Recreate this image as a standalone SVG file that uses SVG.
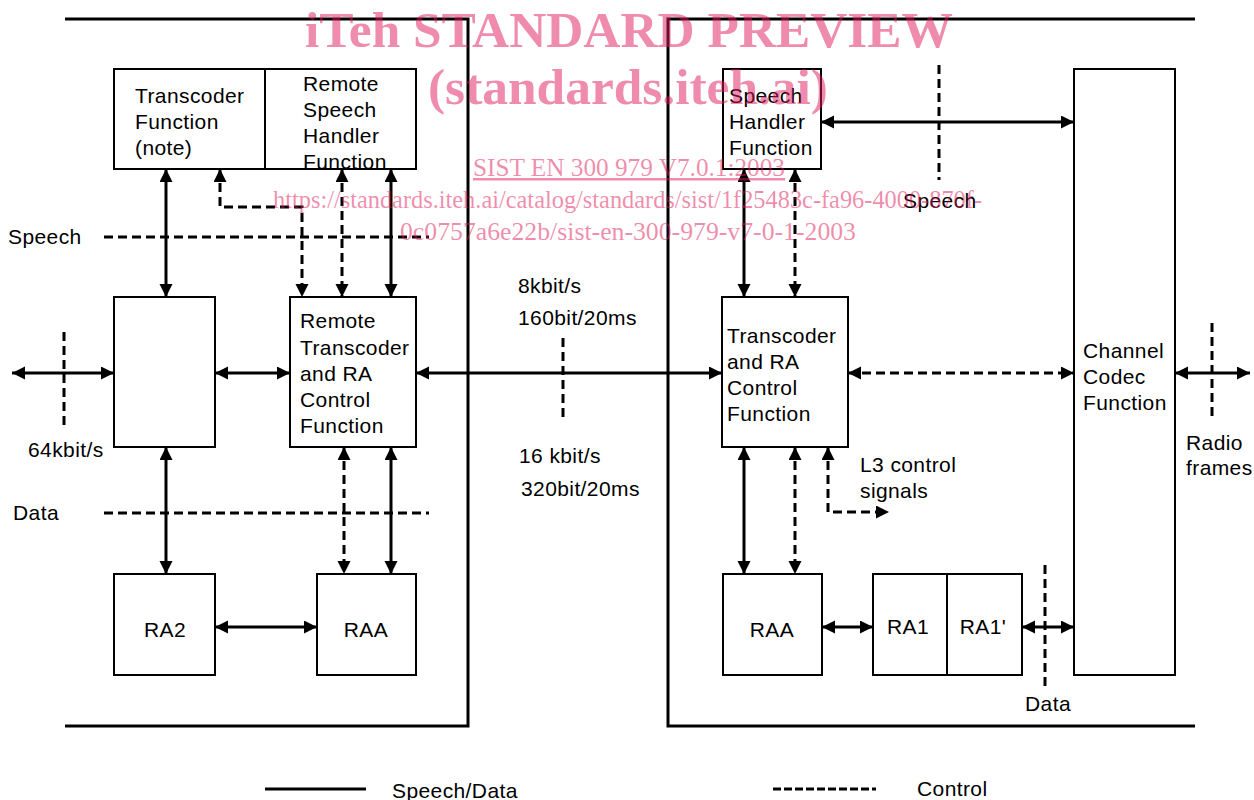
<svg xmlns="http://www.w3.org/2000/svg" width="1254" height="800" viewBox="0 0 1254 800">
<style>
.t{font-family:"Liberation Sans",Arial,sans-serif;font-size:21px;letter-spacing:0.4px;fill:#000}
.box{fill:#fff;stroke:#000;stroke-width:2}
.frame{fill:none;stroke:#000;stroke-width:3}
.s{fill:none;stroke:#000;stroke-width:3}
.d{fill:none;stroke:#000;stroke-width:3;stroke-dasharray:9 5}
.ar{marker-start:url(#ah);marker-end:url(#ah)}
.ae{marker-end:url(#ah)}
.wm{font-family:"Liberation Serif","Times New Roman",serif;fill:#e0185a;fill-opacity:0.5}
</style>
<defs>
<marker id="ah" markerUnits="userSpaceOnUse" markerWidth="14" markerHeight="14" refX="13" refY="6.5" orient="auto-start-reverse">
<path d="M0,0 L13,6.5 L0,13 Z" fill="#000"/>
</marker>
</defs>
<rect width="1254" height="800" fill="#fff"/>
<g id="frames">
<polyline class="frame" points="65,19 468,19 468,726 65,726"/>
<polyline class="frame" points="1195,19 668,19 668,726 1195,726"/>
</g>
<g id="connectors">
<line class="s ar" x1="166" y1="169" x2="166" y2="297"/>
<polyline class="d ar" points="220,169 220,207 302,207 302,297"/>
<line class="d ar" x1="342" y1="169" x2="342" y2="297"/>
<line class="s ar" x1="391" y1="169" x2="391" y2="297"/>
<line class="d" x1="104" y1="237" x2="429" y2="237"/>
<line class="s ar" x1="12" y1="373" x2="114" y2="373"/>
<line class="d" x1="64" y1="332" x2="64" y2="425"/>
<line class="s ar" x1="215" y1="373" x2="290" y2="373"/>
<line class="s ar" x1="416" y1="373" x2="722" y2="373"/>
<line class="s ar" x1="166" y1="447" x2="166" y2="574"/>
<line class="d ar" x1="344" y1="447" x2="344" y2="574"/>
<line class="s ar" x1="391" y1="447" x2="391" y2="574"/>
<line class="d" x1="104" y1="513" x2="429" y2="513"/>
<line class="s ar" x1="215" y1="627" x2="317" y2="627"/>
<line class="d" x1="563" y1="338" x2="563" y2="420"/>
<line class="s ar" x1="821" y1="122" x2="1074" y2="122"/>
<line class="d" x1="939" y1="65" x2="939" y2="180"/>
<line class="s ar" x1="744" y1="169" x2="744" y2="297"/>
<line class="d ar" x1="795" y1="169" x2="795" y2="297"/>
<line class="d ar" x1="848" y1="373" x2="1074" y2="373"/>
<line class="s ar" x1="1175" y1="373" x2="1250" y2="373"/>
<line class="d" x1="1212" y1="323" x2="1212" y2="418"/>
<line class="s ar" x1="744" y1="447" x2="744" y2="574"/>
<line class="d ar" x1="795" y1="447" x2="795" y2="574"/>
<polyline class="d ar" points="828,447 828,512 889,512"/>
<line class="s ar" x1="822" y1="627" x2="873" y2="627"/>
<line class="s ar" x1="1022" y1="627" x2="1074" y2="627"/>
<line class="d" x1="1045" y1="565" x2="1045" y2="690"/>
</g>
<g id="transcoder-function">
<rect class="box" x="114" y="69" width="151" height="100"/>
<text class="t" x="135" y="103">Transcoder</text>
<text class="t" x="135" y="129">Function</text>
<text class="t" x="135" y="155">(note)</text>
</g>
<g id="remote-speech-handler">
<rect class="box" x="265" y="69" width="151" height="100"/>
<text class="t" x="303" y="91">Remote</text>
<text class="t" x="303" y="117">Speech</text>
<text class="t" x="303" y="143">Handler</text>
<text class="t" x="303" y="169">Function</text>
</g>
<g id="left-mid-box">
<rect class="box" x="114" y="297" width="101" height="150"/>
</g>
<g id="remote-transcoder">
<rect class="box" x="290" y="297" width="126" height="150"/>
<text class="t" x="300" y="328">Remote</text>
<text class="t" x="300" y="355">Transcoder</text>
<text class="t" x="300" y="381">and RA</text>
<text class="t" x="300" y="407">Control</text>
<text class="t" x="300" y="433">Function</text>
</g>
<g id="ra2">
<rect class="box" x="114" y="574" width="101" height="101"/>
<text class="t" x="165" y="637" text-anchor="middle">RA2</text>
</g>
<g id="raa-left">
<rect class="box" x="317" y="574" width="99" height="101"/>
<text class="t" x="366" y="637" text-anchor="middle">RAA</text>
</g>
<g id="speech-handler">
<rect class="box" x="723" y="69" width="98" height="100"/>
<text class="t" x="729" y="103">Speech</text>
<text class="t" x="729" y="129">Handler</text>
<text class="t" x="729" y="155">Function</text>
</g>
<g id="transcoder-ra-control">
<rect class="box" x="722" y="297" width="126" height="150"/>
<text class="t" x="727" y="343">Transcoder</text>
<text class="t" x="727" y="369">and RA</text>
<text class="t" x="727" y="395">Control</text>
<text class="t" x="727" y="421">Function</text>
</g>
<g id="channel-codec">
<rect class="box" x="1074" y="69" width="101" height="606"/>
<text class="t" x="1083" y="358">Channel</text>
<text class="t" x="1083" y="384">Codec</text>
<text class="t" x="1083" y="410">Function</text>
</g>
<g id="raa-right">
<rect class="box" x="723" y="574" width="99" height="101"/>
<text class="t" x="772" y="637" text-anchor="middle">RAA</text>
</g>
<g id="ra1">
<rect class="box" x="873" y="574" width="74" height="101"/>
<text class="t" x="908" y="634" text-anchor="middle">RA1</text>
</g>
<g id="ra1p">
<rect class="box" x="947" y="574" width="75" height="101"/>
<text class="t" x="983" y="634" text-anchor="middle">RA1'</text>
</g>
<g id="labels">
<text class="t" x="8" y="244">Speech</text>
<text class="t" x="28" y="457">64kbit/s</text>
<text class="t" x="13" y="520">Data</text>
<text class="t" x="518" y="293">8kbit/s</text>
<text class="t" x="518" y="325">160bit/20ms</text>
<text class="t" x="519" y="463">16 kbit/s</text>
<text class="t" x="521" y="496">320bit/20ms</text>
<text class="t" x="903" y="208">Speech</text>
<text class="t" x="1186" y="450">Radio</text>
<text class="t" x="1186" y="475">frames</text>
<text class="t" x="860" y="472">L3 control</text>
<text class="t" x="860" y="498">signals</text>
<text class="t" x="1025" y="711">Data</text>
</g>
<g id="legend">
<line x1="265" y1="789" x2="366" y2="789" stroke="#000" stroke-width="3"/>
<text class="t" x="392" y="798">Speech/Data</text>
<line x1="773" y1="789" x2="876" y2="789" stroke="#000" stroke-width="3" stroke-dasharray="8 3"/>
<text class="t" x="917" y="796">Control</text>
</g>
<g id="watermark">
<text class="wm" x="305" y="47" font-size="51" font-weight="bold" textLength="648" lengthAdjust="spacingAndGlyphs">iTeh STANDARD PREVIEW</text>
<text class="wm" x="428" y="104" font-size="51" font-weight="bold" textLength="400" lengthAdjust="spacingAndGlyphs">(standards.iteh.ai)</text>
<text class="wm" x="473" y="176" font-size="25" textLength="312" lengthAdjust="spacingAndGlyphs" text-decoration="underline">SIST EN 300 979 V7.0.1:2003</text>
<text class="wm" x="273" y="208" font-size="25" textLength="709" lengthAdjust="spacingAndGlyphs">https://standards.iteh.ai/catalog/standards/sist/1f25483c-fa96-4000-870f-</text>
<text class="wm" x="400" y="240" font-size="25" textLength="456" lengthAdjust="spacingAndGlyphs">0c0757a6e22b/sist-en-300-979-v7-0-1-2003</text>
</g>
</svg>
